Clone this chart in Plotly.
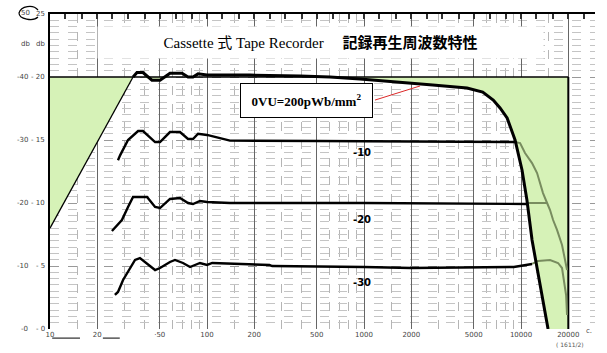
import numpy as np
import plotly.graph_objects as go

# ---------------- data (Hz, dB on the inner 0-25 scale) ----------------
vu_freq = [33.8, 35.8, 39.1, 44.6, 50.2, 58.1, 69.3, 75.7, 81.4, 87.7, 100, 188, 391, 607, 943,
           1695, 2740, 4530, 5700, 6650, 7350, 8150, 9160, 10150, 10900, 11750, 14860]
vu_db = [20.0, 20.35, 20.35, 19.75, 19.75, 20.3, 20.3, 20.0, 20.0, 20.25, 20.15, 20.15, 20.08, 20.0, 19.84,
         19.6, 19.37, 19.13, 18.8, 18.17, 17.54, 16.75, 15.0, 12.6, 10.24, 7.06, 0.0]

m10_freq = [27.1, 28.0, 31.4, 36.4, 39.1, 46.7, 50.2, 58.1, 67.3, 75.7, 81.4, 87.7, 100, 140, 500, 2000, 9160]
m10_db = [13.4, 13.8, 15.0, 15.71, 15.71, 14.84, 14.84, 15.63, 15.63, 15.08, 15.08, 15.5, 15.4, 14.95, 14.92, 14.9, 14.84]

m20_freq = [24.8, 28.7, 31.4, 33.8, 41.5, 46.7, 50.2, 58.1, 67.3, 75.7, 81.4, 90.2, 100, 140, 1000, 10900]
m20_db = [7.78, 8.65, 9.68, 10.48, 10.48, 9.68, 9.6, 10.32, 10.4, 10.0, 9.92, 10.16, 10.08, 10.0, 10.0, 9.92]

m30_freq = [25.9, 27.1, 29.2, 32.3, 34.8, 37.4, 40.3, 46.7, 50.2, 58.1, 62.5, 70.3, 78.0, 90.2, 100, 108,
            250, 260, 1000, 2000, 9000, 11750]
m30_db = [2.70, 2.94, 3.89, 4.84, 5.48, 5.63, 5.32, 4.68, 4.84, 5.32, 5.48, 5.24, 4.92, 5.24, 5.08, 5.24,
          5.08, 5.0, 4.92, 4.84, 4.92, 5.16]

# grey-green high-frequency roll-off traces
g10_freq = [9160, 9860, 10600, 11750, 12650, 13200, 13800, 14650, 15300, 16000, 16950, 18240, 19060, 19630]
g10_db = [14.84, 14.76, 13.97, 13.17, 12.38, 11.67, 10.79, 10.0, 9.44, 8.65, 7.86, 6.67, 5.63, 4.68]
g20_freq = [10900, 14650]
g20_db = [10.0, 10.0]
g30_freq = [11750, 12830, 15300, 17200, 18240, 18800, 19360, 19630]
g30_db = [5.16, 5.4, 5.48, 5.24, 4.84, 3.89, 2.70, 1.11]

# tolerance template (green area)
tmpl_freq = [10, 20000, 20000]
tmpl_db = [20, 20, 0]
slope_freq = [10, 33.8]
slope_db = [8.0, 20.0]

x_tickvals = [10, 20, 50, 100, 200, 500, 1000, 2000, 5000, 10000, 20000]
x_ticktext = ["10", "20", "·50", "100", "200", "500", "1000", "2000", "5000", "10000", "20000"]
third_oct = [12.5, 16, 20, 25, 31.5, 40, 50, 63, 80, 100, 125, 160, 200, 250, 315, 400, 500, 630, 800,
             1000, 1250, 1600, 2000, 2500, 3150, 4000, 5000, 6300, 8000, 10000, 12500, 16000, 20000, 25000]
inner_labels = ["0", "5", "10", "15", "20"]
outer_labels = ["0", "10", "20", "30", "40"]
inner_vals = [0, 5, 10, 15, 20]

minor_x = [d * m for d in [10, 100, 1000, 10000] for m in [1.5, 3, 4, 6, 7, 8, 9]]
minor_y = [v / 2 for v in range(0, 51)]

GREEN = "rgb(214,242,183)"
OLIVE = "rgb(120,140,95)"

fig = go.Figure()

# green area: template minus the response
clipped = list(np.minimum(np.array(vu_db), 20.0))
area_x = tmpl_freq + vu_freq[::-1] + [slope_freq[0]]
area_y = tmpl_db + clipped[::-1] + [slope_db[0]]
fig.add_trace(go.Scatter(x=area_x, y=area_y, fill="toself", fillcolor=GREEN, mode="lines",
                         line=dict(width=0), hoverinfo="skip"))

# template lines
fig.add_trace(go.Scatter(x=tmpl_freq[:2], y=tmpl_db[:2], mode="lines", line=dict(color="black", width=1.3)))
fig.add_trace(go.Scatter(x=tmpl_freq[1:], y=tmpl_db[1:], mode="lines", line=dict(color="black", width=2)))
fig.add_trace(go.Scatter(x=slope_freq, y=slope_db, mode="lines", line=dict(color="black", width=1.3)))

# grey-green roll-off traces
for fx, fy in [(g10_freq, g10_db), (g20_freq, g20_db), (g30_freq, g30_db)]:
    fig.add_trace(go.Scatter(x=fx, y=fy, mode="lines", line=dict(color=OLIVE, width=2)))

# response curves
for fx, fy, w in [(m10_freq, m10_db, 2.4), (m20_freq, m20_db, 2.4), (m30_freq, m30_db, 2.4), (vu_freq, vu_db, 3)]:
    fig.add_trace(go.Scatter(x=fx, y=fy, mode="lines", line=dict(color="black", width=w)))

# red leader line
fig.add_trace(go.Scatter(x=[1175, 2275], y=[18.17, 19.29], mode="lines", line=dict(color="rgb(220,40,40)", width=1)))

# dummy trace for top axis
fig.add_trace(go.Scatter(x=[100, 1000], y=[-10, -10], xaxis="x2", mode="lines", line=dict(width=0)))

annotations = []
# title
annotations.append(dict(x=0.497, xref="paper", y=22.75, yref="y",
                        text="Cassette 式 Tape Recorder　 <b>記録再生周波数特性</b>", showarrow=False,
                        font=dict(family="Liberation Serif, Noto Sans CJK JP", size=15, color="black"),
                        bgcolor="white", width=443, height=29))
# 0VU box
annotations.append(dict(x=2.631, xref="x", y=18.17, yref="y", text="<b>0VU=200pWb/mm<sup>2</sup></b>",
                        showarrow=False, font=dict(family="Liberation Serif", size=13, color="black"),
                        bgcolor="white", bordercolor="black", borderwidth=1, borderpad=2, width=127, height=29))
# hand labels
for txt, yv in [("-10", 13.97), ("-20", 8.73), ("-30", 3.73)]:
    annotations.append(dict(x=2.987, xref="x", y=yv, yref="y", text="<b>" + txt + "</b>", showarrow=False,
                            font=dict(family="DejaVu Sans", size=10, color="black")))
# left scale labels
lf = dict(family="DejaVu Sans", size=7, color="#444")
for v, a, b in zip(inner_vals, inner_labels, outer_labels):
    annotations.append(dict(x=0, xref="paper", y=v, yref="y", text="- " + a, showarrow=False,
                            xanchor="right", xshift=-3, font=lf))
    annotations.append(dict(x=0, xref="paper", y=v, yref="y", text="-" + b, showarrow=False,
                            xanchor="right", xshift=-20, font=lf))
annotations.append(dict(x=0, xref="paper", y=1.0, yref="paper", text="25", showarrow=False,
                        xanchor="right", yanchor="middle", xshift=-3, font=lf))
annotations.append(dict(x=0, xref="paper", y=1.0, yref="paper", text="50", showarrow=False,
                        xanchor="right", yanchor="middle", xshift=-18, yshift=1, font=lf))
for xs in [-3, -18]:
    annotations.append(dict(x=0, xref="paper", y=22.6, yref="y", text="db", showarrow=False,
                            xanchor="right", xshift=xs, font=lf))
# unit texts
annotations.append(dict(x=0.9945, xref="paper", y=-0.025, yref="paper", text="c.", showarrow=False,
                        xshift=2, font=dict(family="DejaVu Sans", size=7, color="#444")))
annotations.append(dict(x=0.983, xref="paper", y=-0.068, yref="paper", text="( 1611/2)", showarrow=False,
                        font=dict(family="DejaVu Sans", size=6, color="#555")))

shapes = [
    dict(type="line", xref="paper", yref="paper", x0=0.004, x1=0.055, y0=-0.029, y1=-0.029,
         line=dict(color="#555", width=1.5)),
    dict(type="line", xref="paper", yref="paper", x0=0.097, x1=0.128, y0=-0.029, y1=-0.029,
         line=dict(color="#555", width=1.5)),
    dict(type="path", xref="paper", xsizemode="pixel", xanchor=0, yref="paper", ysizemode="pixel", yanchor=1,
         path="M-12,4 C-17,10 -29,8 -31,1 C-31,-5 -17,-8 -12,-3", line=dict(color="black", width=1.2)),
]

fig.update_layout(
    width=607, height=353, margin=dict(l=50, r=12, t=14, b=24),
    paper_bgcolor="white", plot_bgcolor="white", showlegend=False,
    annotations=annotations, shapes=shapes,
    xaxis=dict(type="log", range=[1, 4.471], tickvals=x_tickvals, ticktext=x_ticktext,
               showgrid=True, gridcolor="#666", gridwidth=1, zeroline=False, showline=False, ticks="",
               tickfont=dict(family="DejaVu Sans", size=7, color="#444"),
               minor=dict(tickvals=minor_x, showgrid=True, gridcolor="#b5b5b5", griddash="dash", gridwidth=1, ticks="")),
    xaxis2=dict(type="log", range=[1, 4.471], overlaying="x", side="top", anchor="y",
                showline=True, linecolor="black", linewidth=2, showgrid=False, zeroline=False,
                tickvals=third_oct, ticks="inside", ticklen=5, tickwidth=2, tickcolor="#333",
                showticklabels=False),
    yaxis=dict(range=[0, 25], tickvals=inner_vals + [25], showticklabels=False, ticks="",
               showgrid=True, gridcolor="#999", griddash="dash", gridwidth=1, zeroline=False,
               showline=True, linecolor="black", linewidth=2,
               minor=dict(tickvals=minor_y, showgrid=True, gridcolor="#c4c4c4", griddash="dash", gridwidth=1, ticks="")),
)

fig.write_html("out.html")
